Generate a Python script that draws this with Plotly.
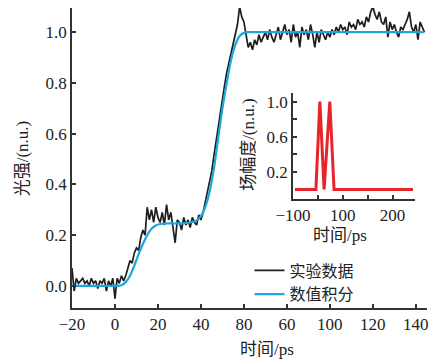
import numpy as np
import plotly.graph_objects as go

# Measured transmitted intensity, sampled every 1 ps from -20 ps to 144 ps
t_exp = np.arange(-20, 145, 1)
i_exp = [
    # -20 .. -1
    0.07, -0.02, 0.03, 0.01, 0.02, 0.03, 0.01, 0.02, 0.00, 0.03,
    0.01, 0.02, -0.01, 0.02, 0.01, 0.03, -0.02, 0.02, 0.00, 0.03,
    # 0 .. 4
    -0.05, 0.03, 0.01, 0.04, 0.02,
    # 5 .. 19
    0.04, 0.07, 0.10, 0.09, 0.13, 0.15, 0.14, 0.19, 0.22, 0.20,
    0.31, 0.26, 0.30, 0.25, 0.31,
    # 20 .. 40
    0.27, 0.25, 0.29, 0.24, 0.32, 0.26, 0.29, 0.23, 0.17, 0.26,
    0.25, 0.22, 0.27, 0.24, 0.26, 0.23, 0.27, 0.25, 0.24, 0.28, 0.26,
    # 41 .. 60
    0.29, 0.33, 0.36, 0.41, 0.45, 0.51, 0.57, 0.62, 0.67, 0.73,
    0.79, 0.84, 0.88, 0.92, 0.95, 0.99, 1.03, 1.10, 1.06, 1.04,
    # 61 .. 80
    0.99, 0.94, 0.96, 0.93, 0.97, 0.95, 0.99, 0.96, 0.98, 1.00,
    0.97, 1.01, 0.98, 0.96, 0.99, 1.02, 0.97, 1.00, 1.03, 0.99,
    # 81 .. 100
    1.01, 0.96, 1.03, 0.98, 1.00, 0.94, 1.02, 0.99, 1.01, 0.97,
    1.03, 0.99, 0.94, 1.00, 0.96, 1.01, 0.99, 0.97, 1.00, 0.98,
    # 101 .. 120
    1.01, 0.99, 1.02, 1.00, 1.03, 1.01, 1.02, 0.99, 1.04, 1.02,
    1.03, 1.01, 1.05, 1.03, 1.04, 1.02, 1.06, 1.04, 1.08, 1.10,
    # 121 .. 140
    1.07, 1.05, 1.08, 1.04, 1.03, 1.06, 0.98, 1.04, 1.01, 1.03,
    1.00, 0.98, 1.02, 1.01, 1.03, 1.05, 1.08, 1.02, 1.00, 1.03,
    # 141 .. 144
    0.97, 1.04, 1.02, 1.00,
]

# Numerically integrated intensity
t_num = [-20, -10, 0, 3, 5, 7, 9, 11, 13, 15, 17, 19, 21, 24, 28, 32, 36, 38,
         40, 42, 44, 46, 48, 50, 52, 54, 56, 58, 60, 62, 65, 80, 100, 120, 144]
i_num = [0.0, 0.0, 0.0, 0.003, 0.015, 0.04, 0.08, 0.125, 0.165, 0.20, 0.225,
         0.238, 0.244, 0.246, 0.246, 0.247, 0.252, 0.258, 0.275, 0.31, 0.37,
         0.46, 0.58, 0.70, 0.80, 0.89, 0.95, 0.985, 0.997, 1.0, 1.0, 1.0, 1.0,
         1.0, 1.0]

# Field amplitude of the double pulse (inset)
t_field = [-92, -8, 8, 25, 48, 65, 382]
a_field = [0.0, 0.0, 1.0, 0.0, 1.0, 0.0, 0.0]

main_ticks = [-20, 0, 20, 40, 60, 80, 100, 120, 140]
main_ticktext = ["−20", "0", "20", "40", "80", "60", "100", "120", "140"]
y_ticks = [0.0, 0.2, 0.4, 0.6, 0.8, 1.0]
y_ticktext = ["0.0", "0.2", "0.4", "0.6", "0.8", "1.0"]
inset_xticks = [-100, 0, 100, 200, 300]
inset_xticktext = ["−100", "", "100", "", "200"]
inset_yticks = [0.2, 0.4, 0.6, 0.8, 1.0]
inset_yticktext = ["0.2", "", "0.6", "", "1.0"]

FONT = "Liberation Serif, Noto Sans CJK SC, serif"
INK = "#222222"
AXIS = "#333333"

fig = go.Figure()
fig.add_trace(go.Scatter(x=t_exp, y=i_exp, mode="lines", name="实验数据",
                         line=dict(color="#1e1e1e", width=1.7)))
fig.add_trace(go.Scatter(x=t_num, y=i_num, mode="lines", name="数值积分",
                         line=dict(color="#1aa7dc", width=2.2, shape="spline",
                                   smoothing=0.6)))
fig.add_trace(go.Scatter(x=t_field, y=a_field, mode="lines", showlegend=False,
                         xaxis="x2", yaxis="y2",
                         line=dict(color="#e8232a", width=3)))

axis_common = dict(showline=True, linecolor=AXIS, linewidth=1.5, ticks="inside",
                   ticklen=4, tickwidth=1.5, tickcolor=AXIS, showgrid=False,
                   zeroline=False, tickfont=dict(family=FONT, size=17, color=INK))

fig.update_layout(
    width=438, height=361,
    margin=dict(l=72, r=11, t=8, b=53),
    plot_bgcolor="white", paper_bgcolor="white",
    font=dict(family=FONT, size=17, color=INK),
    xaxis=dict(range=[-20, 145.2], tickmode="array", tickvals=main_ticks,
               ticktext=main_ticktext, **axis_common),
    yaxis=dict(range=[-0.087, 1.095], tickmode="array", tickvals=y_ticks,
               ticktext=y_ticktext, **axis_common),
    xaxis2=dict(domain=[0.6225, 0.966], anchor="y2", range=[-100, 390],
                tickmode="array", tickvals=inset_xticks,
                ticktext=inset_xticktext, **axis_common),
    yaxis2=dict(domain=[0.363, 0.717], anchor="x2", range=[-0.11, 1.10],
                tickmode="array", tickvals=inset_yticks,
                ticktext=inset_yticktext, **axis_common),
    legend=dict(x=0.50, y=0.182, xanchor="left", yanchor="top",
                bgcolor="rgba(0,0,0,0)", tracegroupgap=0, itemwidth=30,
                font=dict(family=FONT, size=16, color=INK)),
    annotations=[
        dict(text="时间/ps", xref="paper", yref="paper", x=0.55, y=-0.137,
             xanchor="center", yanchor="middle", showarrow=False,
             font=dict(family=FONT, size=17, color=INK)),
        dict(text="光强/(n.u.)", xref="paper", yref="paper", x=-0.14, y=0.5,
             xanchor="center", yanchor="middle", textangle=-90, showarrow=False,
             font=dict(family=FONT, size=17, color=INK)),
        dict(text="时间/ps", xref="paper", yref="paper", x=0.755, y=0.243,
             xanchor="center", yanchor="middle", showarrow=False,
             font=dict(family=FONT, size=17, color=INK)),
        dict(text="场幅度/(n.u.)", xref="paper", yref="paper", x=0.4985, y=0.547,
             xanchor="center", yanchor="middle", textangle=-90, showarrow=False,
             font=dict(family=FONT, size=17, color=INK)),
    ],
)

fig.write_html("out.html")
